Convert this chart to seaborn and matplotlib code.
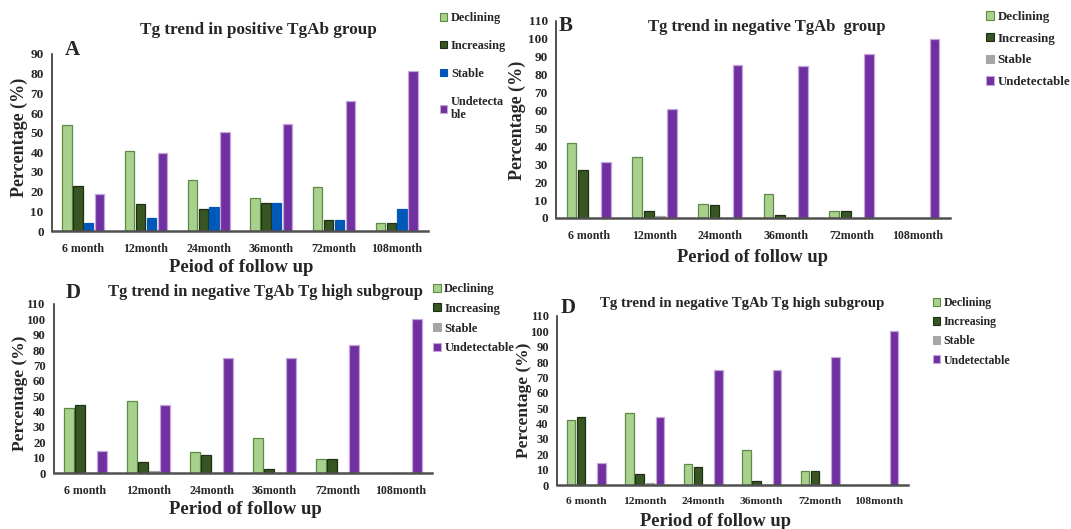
import numpy as np
import pandas as pd
import matplotlib

matplotlib.use("Agg")
import matplotlib.pyplot as plt
import seaborn as sns
from matplotlib.patches import Patch

# data
periods = ["6 month", "12month", "24month", "36month", "72month", "108month"]
trends = ["Declining", "Increasing", "Stable", "Undetectable"]

# A: positive TgAb group
pos_declining = [54, 40.5, 26, 17, 22.5, 4]
pos_increasing = [23, 13.5, 11, 14, 5.5, 4]
pos_stable = [4, 6.5, 12, 14, 5.5, 11]
pos_undetectable = [19, 39.5, 50.5, 54.5, 66, 81.5]

# B: negative TgAb group
neg_declining = [42, 34, 8, 13.5, 4, 0]
neg_increasing = [27, 4, 7, 1.5, 4, 0]
neg_stable = [0, 1, 0, 0, 0, 0]
neg_undetectable = [31, 61, 85.5, 85, 91.5, 100]

# D: negative TgAb, Tg high subgroup (shown twice)
high_declining = [42, 47, 13.5, 22.5, 9, 0]
high_increasing = [44, 7, 11.5, 2.5, 9, 0]
high_stable = [0, 1.5, 0, 0, 0, 0]
high_undetectable = [14, 44, 75, 75, 83, 100]

W, H = 1071, 529
FONT = "Liberation Serif"

sns.set_theme(style="white")
plt.rcParams["font.family"] = [FONT, "DejaVu Serif"]
plt.rcParams["font.weight"] = "bold"

LIGHT = "#A9D18E"
DARK = "#375623"
PURPLE = "#7030A0"
GRAY = "#A6A6A6"
BLUE = "#0058B8"
EDGES = {"Declining": "#5E8A42", "Increasing": "#1F3012",
         "Stable": None, "Undetectable": "#C6A5DA"}


def long_df(declining, increasing, stable, undetectable):
    rows = []
    for trend, vals in zip(trends, [declining, increasing, stable, undetectable]):
        for p, v in zip(periods, vals):
            rows.append({"period": p, "trend": trend, "pct": v})
    return pd.DataFrame(rows)


def px(x, y):
    return x / W, 1 - y / H


def draw_panel(fig, box, df, stable_color, ymax, title, title_xy, letter,
               letter_xy, xlabel, xlabel_xy, ylabel_xy, legend_xy, spacing,
               fs, labels=None):
    l, t, r, b = box
    ax = fig.add_axes([l / W, 1 - b / H, (r - l) / W, (b - t) / H])
    pal = {"Declining": LIGHT, "Increasing": DARK,
           "Stable": stable_color, "Undetectable": PURPLE}
    sns.barplot(data=df, x="period", y="pct", hue="trend", order=periods,
                hue_order=trends, palette=pal, width=0.7, gap=0.15,
                errorbar=None, legend=False, saturation=1, ax=ax)
    for trend, cont in zip(trends, ax.containers):
        edge = EDGES[trend] or stable_color
        for bar in cont:
            bar.set_edgecolor(edge)
            bar.set_linewidth(0.9)
    ax.set_xlim(-0.5, 5.5)
    ax.set_ylim(0, ymax)
    ax.set_yticks(np.arange(0, ymax + 1, 10))
    ax.set_xlabel("")
    ax.set_ylabel("")
    ax.tick_params(axis="y", length=4, width=1, color="#404040", pad=2,
                   labelsize=fs["yt"])
    ax.tick_params(axis="x", length=0, pad=9, labelsize=fs["xt"])
    for lab in ax.get_xticklabels() + ax.get_yticklabels():
        lab.set_fontweight("bold")
    sns.despine(ax=ax)
    ax.spines["left"].set_color("#202020")
    ax.spines["left"].set_linewidth(1.1)
    ax.spines["bottom"].set_color("#505050")
    ax.spines["bottom"].set_linewidth(1.8)

    fig.text(*px(*title_xy), title, ha="center", va="center",
             fontsize=fs["title"], fontweight="bold")
    fig.text(*px(*letter_xy), letter, ha="center", va="center",
             fontsize=15, fontweight="bold")
    fig.text(*px(*xlabel_xy), xlabel, ha="center", va="center",
             fontsize=fs["xl"], fontweight="bold")
    fig.text(*px(*ylabel_xy), "Percentage (%)", ha="center", va="center",
             rotation=90, fontsize=fs["yl"], fontweight="bold")

    handles = [Patch(facecolor=pal[t], edgecolor=EDGES[t] or pal[t],
                     linewidth=0.8) for t in trends]
    fig.legend(handles, labels or trends, loc="upper left",
               bbox_to_anchor=px(*legend_xy), frameon=False,
               prop={"family": FONT, "weight": "bold", "size": fs["leg"]},
               handlelength=0.6, handleheight=0.6, handletextpad=0.3,
               labelspacing=spacing, borderpad=0, borderaxespad=0)
    return ax


fig = plt.figure(figsize=(W / 100, H / 100), dpi=100)

draw_panel(fig, (52, 54, 428, 231),
           long_df(pos_declining, pos_increasing, pos_stable, pos_undetectable),
           BLUE, 90, "Tg trend in positive TgAb group", (258, 30), "A", (72, 50),
           "Peiod of follow up", (241, 268), (19, 137), (440, 12), 1.3,
           dict(title=12.3, xt=8.6, yt=9.5, xl=13.5, yl=13, leg=8.8),
           labels=["Declining", "Increasing", "Stable", "Undetecta\nble"])

draw_panel(fig, (556, 21, 950, 218),
           long_df(neg_declining, neg_increasing, neg_stable, neg_undetectable),
           GRAY, 110, "Tg trend in negative TgAb  group", (767, 27), "B",
           (566, 26), "Period of follow up", (753, 257), (517, 120), (986, 11),
           0.75, dict(title=12.0, xt=8.6, yt=9.5, xl=13.3, yl=13, leg=9.3))

draw_panel(fig, (54, 304, 432, 473),
           long_df(high_declining, high_increasing, high_stable, high_undetectable),
           GRAY, 110, "Tg trend in negative TgAb Tg high subgroup", (265, 292),
           "D", (73, 293), "Period of follow up", (245, 510), (20, 393),
           (433, 283), 0.62,
           dict(title=11.9, xt=8.6, yt=9.2, xl=13.5, yl=12.5, leg=9.0))

draw_panel(fig, (557, 316, 908, 485),
           long_df(high_declining, high_increasing, high_stable, high_undetectable),
           GRAY, 110, "Tg trend in negative TgAb Tg high subgroup", (742, 303),
           "D", (568, 308), "Period of follow up", (715, 521), (524, 400),
           (933, 297), 0.6,
           dict(title=10.7, xt=8.2, yt=9.0, xl=13.3, yl=12.5, leg=8.6))

fig.savefig("out.png", dpi=100)
